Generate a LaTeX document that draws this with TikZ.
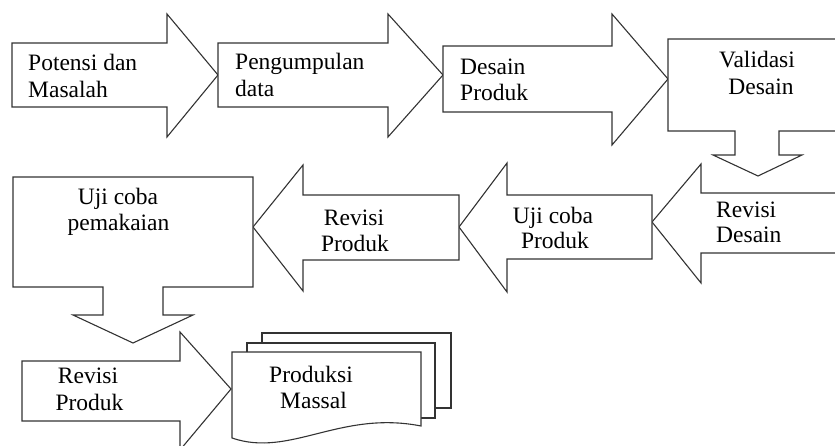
\documentclass[tikz,border=0pt]{standalone}
\usepackage{fontspec}
\setmainfont{Liberation Serif}
\tikzset{
  shp/.style={draw=black!80, line width=1.1pt, fill=white, line join=miter},
  lbl/.style={inner sep=0pt, font=\fontsize{23.5}{27}\selectfont, text=black}
}
\begin{document}
\begin{tikzpicture}[x=1pt,y=-1pt]
\useasboundingbox (0,0) rectangle (835,446);
\begin{scope}
\clip (0,0) rectangle (835,446);
% row 1
\draw[shp] (12,43) -- (167,43) -- (167,14) -- (218,75) -- (167,137) -- (167,107) -- (12,107) -- cycle;
\draw[shp] (218,43) -- (388,43) -- (388,14) -- (443,75) -- (388,137) -- (388,107) -- (218,107) -- cycle;
\draw[shp] (443,46) -- (612,46) -- (612,14) -- (668,79) -- (612,145) -- (612,112) -- (443,112) -- cycle;
\draw[shp] (668,39) -- (845,39) -- (845,131) -- (779,131) -- (779,155) -- (802,155) -- (758,176) -- (713,155) -- (735,155) -- (735,131) -- (668,131) -- cycle;
% row 2
\draw[shp] (845,193) -- (701,193) -- (701,164) -- (652,222) -- (701,283) -- (701,253) -- (845,253) -- cycle;
\draw[shp] (652,195) -- (507,195) -- (507,163) -- (459,227) -- (507,292) -- (507,259) -- (652,259) -- cycle;
\draw[shp] (459,195) -- (303,195) -- (303,165) -- (253,227) -- (303,291) -- (303,260) -- (459,260) -- cycle;
\draw[shp] (13,177) -- (253,177) -- (253,287) -- (163,287) -- (163,315) -- (193,315) -- (133,343) -- (73,315) -- (103,315) -- (103,287) -- (13,287) -- cycle;
% row 3
\draw[shp] (22,361) -- (180,361) -- (180,332) -- (231,389) -- (180,450) -- (180,421) -- (22,421) -- cycle;
\draw[shp] (262,333) rectangle (451,408);
\draw[shp] (247,343) rectangle (435,418);
\draw[shp] (232,352) -- (421,352) -- (421,426) .. controls (340,410) and (290,458) .. (232,438) -- cycle;
\end{scope}
% labels
\node[lbl, anchor=base west] (p1) at (28,71) {Potensi dan};
\node[lbl, anchor=base west] (p2) at (28,98) {Masalah};
\node[lbl, anchor=base west] (g1) at (235,70) {Pengumpulan};
\node[lbl, anchor=base west] (g2) at (235,97) {data};
\node[lbl, anchor=base west] (d1) at (460,75) {Desain};
\node[lbl, anchor=base west] (d2) at (460,101) {Produk};
\node[lbl, anchor=base] (v1) at (757,68) {Validasi};
\node[lbl, anchor=base] (v2) at (761,95) {Desain};
\node[lbl, anchor=base west] (r1) at (716,218) {Revisi};
\node[lbl, anchor=base west] (r2) at (716,243) {Desain};
\node[lbl, anchor=base] (u1) at (553,224) {Uji coba};
\node[lbl, anchor=base] (u2) at (555,249) {Produk};
\node[lbl, anchor=base] (rp1) at (354,226) {Revisi};
\node[lbl, anchor=base] (rp2) at (355,252) {Produk};
\node[lbl, anchor=base] (k1) at (118,205) {Uji coba};
\node[lbl, anchor=base] (k2) at (118.5,231) {pemakaian};
\node[lbl, anchor=base] (s1) at (88,383) {Revisi};
\node[lbl, anchor=base] (s2) at (89.5,410) {Produk};
\node[lbl, anchor=base] (m1) at (311,382) {Produksi};
\node[lbl, anchor=base] (m2) at (313.5,408) {Massal};
\end{tikzpicture}
\end{document}
